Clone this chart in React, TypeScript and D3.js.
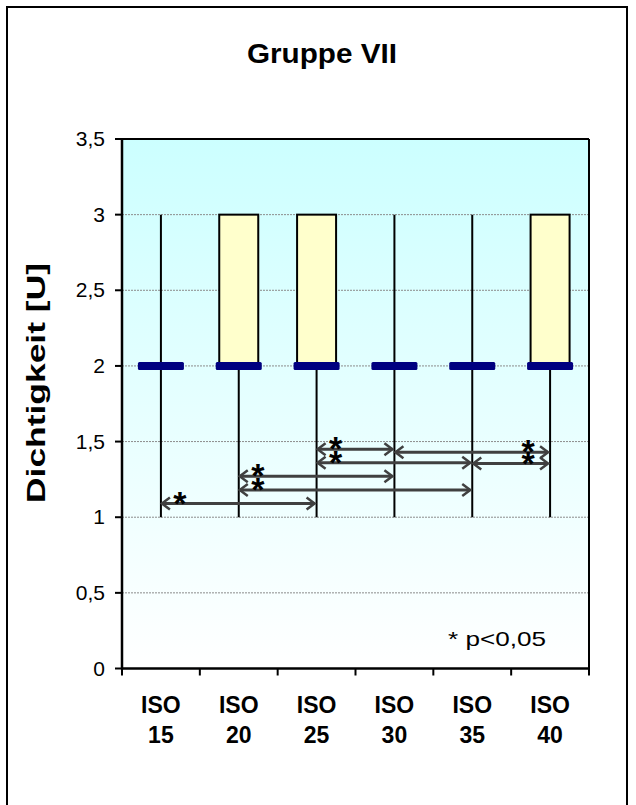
import React from "react";
import * as d3 from "d3";

const categories = ["ISO 15", "ISO 20", "ISO 25", "ISO 30", "ISO 35", "ISO 40"];
const maxValues = [3, 3, 3, 3, 3, 3];
const q3Values = [2, 3, 3, 2, 2, 3];
const medianValues = [2, 2, 2, 2, 2, 2];
const q1Values = [2, 2, 2, 2, 2, 2];
const minValues = [1, 1, 1, 1, 1, 1];
const yTicks = [0, 0.5, 1, 1.5, 2, 2.5, 3, 3.5];

// significance brackets (index from -> index to, at level)
const sigFrom = [0, 1, 1, 2, 2, 3, 4];
const sigTo = [2, 4, 3, 4, 3, 5, 5];
const sigLevel = [1.09, 1.18, 1.27, 1.36, 1.45, 1.43, 1.355];
const sigStarSide = ["start", "start", "start", "start", "start", "end", "end"];

const fmt = (v: number) => String(v).replace(".", ",");

export default function App() {
  const W = 636;
  const H = 805;
  const left = 122, right = 589, top = 139, bottom = 668.5;
  const x = d3.scaleBand<string>().domain(categories).range([left, right]).padding(0);
  const y = d3.scaleLinear().domain([0, 3.5]).range([bottom, top]);
  const cx = (i: number) => (x(categories[i]) as number) + x.bandwidth() / 2;
  const boxW = 39;
  const medW = 46;
  const font = "Liberation Sans, Arial, sans-serif";
  const boundaries = d3.range(categories.length + 1).map((i) => left + i * x.bandwidth());

  return (
    <svg width={W} height={H} style={{ position: "absolute", left: 0, top: 0 }} fontFamily={font}>
      <defs>
        <linearGradient id="bg" x1="0" y1="0" x2="0" y2="1">
          <stop offset="0" stopColor="#CCFFFF" />
          <stop offset="1" stopColor="#FFFFFF" />
        </linearGradient>
      </defs>
      <rect x={0} y={0} width={W} height={H} fill="#fff" />
      {/* outer frame */}
      <path d={`M7,${H + 5} V7 H627 V${H + 5}`} fill="none" stroke="#000" strokeWidth={2} />

      <text x={322} y={63} textAnchor="middle" fontWeight="bold" fontSize={28} textLength={150} lengthAdjust="spacingAndGlyphs">
        Gruppe VII
      </text>

      {/* plot background */}
      <rect x={left} y={top} width={right - left} height={bottom - top} fill="url(#bg)" />

      {/* gridlines */}
      {yTicks.filter((t) => t > 0 && t < 3.5).map((t) => (
        <line key={"g" + t} x1={left} x2={right} y1={y(t)} y2={y(t)} stroke="#8c8c8c" strokeWidth={1} strokeDasharray="2,1" />
      ))}

      {/* whiskers */}
      {categories.map((c, i) => (
        <line key={"w" + c} x1={cx(i)} x2={cx(i)} y1={y(maxValues[i])} y2={y(minValues[i])} stroke="#000" strokeWidth={2} />
      ))}

      {/* boxes */}
      {categories.map((c, i) =>
        q3Values[i] > q1Values[i] ? (
          <rect key={"b" + c} x={cx(i) - boxW / 2} y={y(q3Values[i])} width={boxW} height={y(q1Values[i]) - y(q3Values[i])}
            fill="#FFFFCC" stroke="#000" strokeWidth={2} />
        ) : null
      )}

      {/* medians */}
      {categories.map((c, i) => (
        <rect key={"m" + c} x={cx(i) - medW / 2} y={y(medianValues[i]) - 4} width={medW} height={8} fill="#000080" rx={1.5} />
      ))}

      {/* significance arrows */}
      {sigFrom.map((f, k) => {
        const x1 = cx(f) + 1;
        const x2 = cx(sigTo[k]) - 2;
        const yy = y(sigLevel[k]);
        const h = 8, a = 6;
        const sx = sigStarSide[k] === "start" ? x1 + 18 : x2 - 20;
        return (
          <g key={"s" + k}>
            <line x1={x1} x2={x2} y1={yy} y2={yy} stroke="#404040" strokeWidth={3} />
            <path d={`M${x1 + h},${yy - a} L${x1},${yy} L${x1 + h},${yy + a}`} fill="none" stroke="#404040" strokeWidth={2.5} />
            <path d={`M${x2 - h},${yy - a} L${x2},${yy} L${x2 - h},${yy + a}`} fill="none" stroke="#404040" strokeWidth={2.5} />
            <text x={sx} y={yy - 8 + 19} textAnchor="middle" fontSize={34} fontWeight="bold" fill="#000">*</text>
          </g>
        );
      })}

      {/* plot frame */}
      <line x1={left} x2={right} y1={top} y2={top} stroke="#000" strokeWidth={2} />
      <line x1={right} x2={right} y1={top} y2={bottom} stroke="#000" strokeWidth={2} />
      <line x1={left} x2={left} y1={top - 1} y2={bottom + 1} stroke="#000" strokeWidth={2.5} />
      <line x1={left - 1} x2={right + 1} y1={bottom} y2={bottom} stroke="#000" strokeWidth={2.5} />

      {/* y ticks */}
      {yTicks.map((t) => (
        <g key={"yt" + t}>
          <line x1={left - 7} x2={left} y1={y(t)} y2={y(t)} stroke="#000" strokeWidth={2} />
          <text x={105} y={y(t) + 7} textAnchor="end" fontSize={21}>{fmt(t)}</text>
        </g>
      ))}

      {/* x ticks */}
      {boundaries.map((b, i) => (
        <line key={"xt" + i} x1={b} x2={b} y1={bottom} y2={bottom + 7} stroke="#000" strokeWidth={2} />
      ))}
      {categories.map((c, i) => {
        const [l1, l2] = c.split(" ");
        return (
          <text key={"xl" + c} x={cx(i)} textAnchor="middle" fontWeight="bold" fontSize={23}>
            <tspan x={cx(i)} y={713}>{l1}</tspan>
            <tspan x={cx(i)} y={743}>{l2}</tspan>
          </text>
        );
      })}

      {/* y title */}
      <text transform={`translate(45, 383) rotate(-90)`} textAnchor="middle" fontWeight="bold" fontSize={25}
        textLength={240} lengthAdjust="spacingAndGlyphs">
        Dichtigkeit [U]
      </text>

      {/* note */}
      <text x={448} y={646} fontSize={21} textLength={98} lengthAdjust="spacingAndGlyphs">* p&lt;0,05</text>
    </svg>
  );
}
